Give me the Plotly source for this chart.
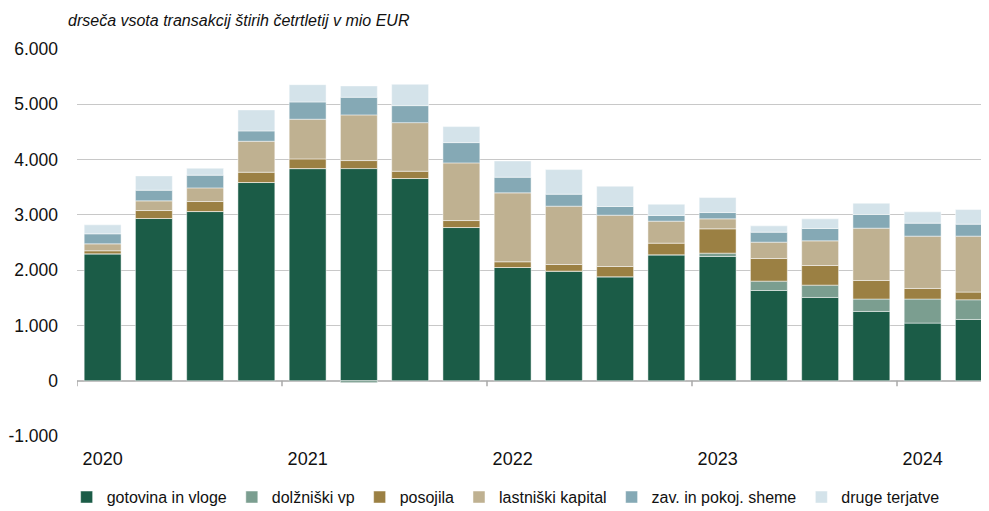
import plotly.graph_objects as go

quarters = ["2020Q1","2020Q2","2020Q3","2020Q4","2021Q1","2021Q2","2021Q3","2021Q4",
            "2022Q1","2022Q2","2022Q3","2022Q4","2023Q1","2023Q2","2023Q3","2023Q4",
            "2024Q1","2024Q2"]
year_labels = ["2020", "2021", "2022", "2023", "2024"]
year_positions = [0, 4, 8, 12, 16]

gotovina = [2295, 2934, 3060, 3585, 3837, 3837, 3657, 2771, 2048, 1982, 1880, 2277, 2247, 1632, 1506, 1253, 1042, 1108]
dolzniski = [0, 0, 0, 0, 0, -35, 0, 0, 0, 0, 0, 0, 60, 169, 223, 224, 435, 356]
posojila = [55, 144, 181, 186, 175, 145, 132, 126, 103, 120, 186, 211, 440, 409, 355, 336, 192, 139]
lastniski = [126, 175, 247, 560, 718, 826, 879, 1043, 1247, 1055, 928, 398, 181, 296, 446, 946, 946, 1012]
zav = [181, 193, 230, 187, 312, 319, 308, 367, 283, 217, 157, 102, 114, 181, 223, 247, 235, 217]
druge = [163, 259, 126, 380, 313, 205, 386, 289, 295, 445, 368, 205, 271, 114, 175, 205, 204, 264]

series = [
    ("gotovina in vloge", gotovina, "#1b5c47"),
    ("dolžniški vp", dolzniski, "#7b9e90"),
    ("posojila", posojila, "#9b8043"),
    ("lastniški kapital", lastniski, "#bfb191"),
    ("zav. in pokoj. sheme", zav, "#85a9b5"),
    ("druge terjatve", druge, "#d4e3ea"),
]

x = list(range(len(quarters)))
fig = go.Figure()
for name, vals, col in series:
    fig.add_trace(go.Bar(
        x=x, y=vals, name=name, marker_color=col,
        marker_line_color="rgba(255,255,255,0.6)", marker_line_width=0.8,
        width=0.72, customdata=quarters,
        hovertemplate="%{customdata}: %{y}<extra>" + name + "</extra>",
    ))

base_font = "Liberation Sans, Arial, sans-serif"

# page body has an 8px default margin, so the figure is 8px smaller
fig.update_layout(
    barmode="relative",
    width=981, height=503,
    margin=dict(l=69, r=0, t=41, b=75, autoexpand=False),
    plot_bgcolor="white", paper_bgcolor="white",
    font=dict(family=base_font, color="#111111", size=16),
    legend=dict(orientation="h", x=0.47, xanchor="center", y=-0.158, yanchor="middle",
                font=dict(family=base_font, size=16), itemwidth=30, traceorder="normal",
                tracegroupgap=0),
    showlegend=True,
)
fig.update_xaxes(
    range=[-0.5, 17.295],
    tickvals=year_positions, ticktext=year_labels,
    tickfont=dict(size=18),
    showgrid=False, showline=False, ticks="", zeroline=False,
    ticklabelstandoff=10, automargin=False,
)
fig.update_yaxes(
    range=[-1000, 6000],
    tickvals=[-1000, 0, 1000, 2000, 3000, 4000, 5000, 6000],
    ticktext=["-1.000", "0", "1.000", "2.000", "3.000", "4.000", "5.000", "6.000"],
    showgrid=True, gridcolor="#c8c8c8", gridwidth=1.3,
    zeroline=True, zerolinecolor="#bdbdbd", zerolinewidth=2,
    ticks="", ticklabelstandoff=18, automargin=False,
    tickfont=dict(size=17.5),
)
# boundary tick marks on the zero line
for b in [-0.5, 3.5, 7.5, 11.5, 15.5]:
    fig.add_shape(type="line", xref="x", yref="y", x0=b, x1=b, y0=0, y1=-100,
                  line=dict(color="#aaaaaa", width=1.5))

fig.add_annotation(
    text="drseča vsota transakcij štirih četrtletij v mio EUR",
    xref="paper", yref="paper", x=-0.012, y=1.0, yshift=29, xanchor="left", yanchor="middle",
    showarrow=False, font=dict(size=16, family=base_font, style="italic"),
)

fig.write_html("out.html")
